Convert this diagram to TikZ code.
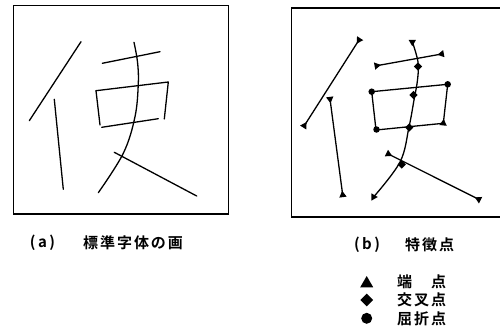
\documentclass[tikz,border=0pt]{standalone}
\usepackage{fontspec}
\newfontfamily\jp[LetterSpace=13,BoldFont={Noto Sans CJK JP Bold}]{Noto Sans CJK JP}
\newfontfamily\jpn[BoldFont={Noto Sans CJK JP Bold}]{Noto Sans CJK JP}
\usetikzlibrary{shapes.geometric}
\tikzset{
  stroke/.style={line width=1.3pt, line cap=round, line join=round},
  frame/.style={line width=1.3pt},
  tri/.style={regular polygon, regular polygon sides=3, fill=black, inner sep=0pt, minimum size=8.5pt, sloped, allow upside down},
  tris/.style={tri, shape border rotate=-90},
  trie/.style={tri, shape border rotate=90},
  dia/.style={diamond, fill=black, inner sep=0pt, minimum size=8.5pt},
  dot/.style={circle, fill=black, inner sep=0pt, minimum size=6.5pt},
  lbl/.style={inner sep=0pt, font=\jp\bfseries\fontsize{15}{15}\selectfont, anchor=west},
  pl/.style={inner sep=0pt, font=\jpn\bfseries\fontsize{15}{15}\selectfont}
}
\begin{document}
\begin{tikzpicture}[x=1pt,y=-1pt]
\useasboundingbox (0,0) rectangle (500,329);
% ---------- (a) ----------
\draw[frame] (13.3,5.7) rectangle (228.7,214);
\draw[stroke] (81,41.7) -- (29.3,120.7);
\draw[stroke] (54.3,99.3) -- (63.3,189.3);
\draw[stroke] (102.3,63.3) -- (160,51.7);
\draw[stroke] (96,90.7) -- (100,125);
\draw[stroke] (96,90.7) -- (168.3,82) -- (164.3,119);
\draw[stroke] (101.7,127.3) -- (158.3,118.7);
\draw[stroke] plot[smooth, tension=0.6] coordinates {(134,42.3) (137.5,62) (138.3,83.3) (135,116.7) (123.3,153.3) (98.3,192.7)};
\draw[stroke] (114.3,152.3) -- (196.7,196);
% ---------- (b) ----------
\draw[frame] (500,8) -- (291.7,8) -- (291.7,217) -- (500,217);
\draw[stroke] (359,40) -- (304.3,125.7) node[tris,pos=0]{} node[trie,pos=1]{};
\draw[stroke] (330,99) -- (342.7,195) node[tris,pos=0]{} node[trie,pos=1]{};
\draw[stroke] (376.7,65.7) -- (441.7,54) node[tris,pos=0]{} node[trie,pos=1]{};
\draw[stroke] (371.7,91.7) -- (376,130);
\draw[stroke] (371.7,91.7) -- (447.7,84.3) -- (443.3,123.3) node[trie,pos=1]{};
\draw[stroke] (376,130) -- (443.3,123.3);
\draw[stroke] plot[smooth, tension=0.6] coordinates {(412.3,41.7) (418,62) (417.5,80) (414,100) (409,127) (400,162) (373.3,197.3)};
\draw[stroke] (388.3,154) -- (478.7,199.3) node[tris,pos=0]{} node[trie,pos=1]{};
% curve end markers
\node[tri, shape border rotate=180] (ct) at (412.3,42) {};
\node[tri, shape border rotate=30] (cb) at (373.5,197) {};
% bend points
\node[dot] (tl) at (371.7,91.7) {};
\node[dot] (tr) at (447.7,84.3) {};
\node[dot] (bl) at (376.5,129.5) {};
% crossing points
\node[dia] (x1) at (418,66.5) {};
\node[dia] (x2) at (413.5,95) {};
\node[dia] (x3) at (409.3,127.5) {};
\node[dia] (x4) at (401.7,164.5) {};
% ---------- labels ----------
\node[pl] (la) at (42.5,243) {(\,a\,)};
\node[lbl] (ta) at (83,243) {標準字体の画};
\node[pl] (lb) at (367,245) {(\,b\,)};
\node[lbl] (tb) at (405,245) {特徴点};
\node[regular polygon, regular polygon sides=3, fill=black, inner sep=0pt, minimum size=15pt] (s1) at (366.7,283.5) {};
\node[lbl] (t1) at (397,281.7) {端　点};
\node[diamond, fill=black, inner sep=0pt, minimum size=13pt] (s2) at (366.7,300) {};
\node[lbl] (t2) at (397,300) {交叉点};
\node[circle, fill=black, inner sep=0pt, minimum size=11pt] (s3) at (366.7,318.3) {};
\node[lbl] (t3) at (397,318.3) {屈折点};
\end{tikzpicture}
\end{document}
